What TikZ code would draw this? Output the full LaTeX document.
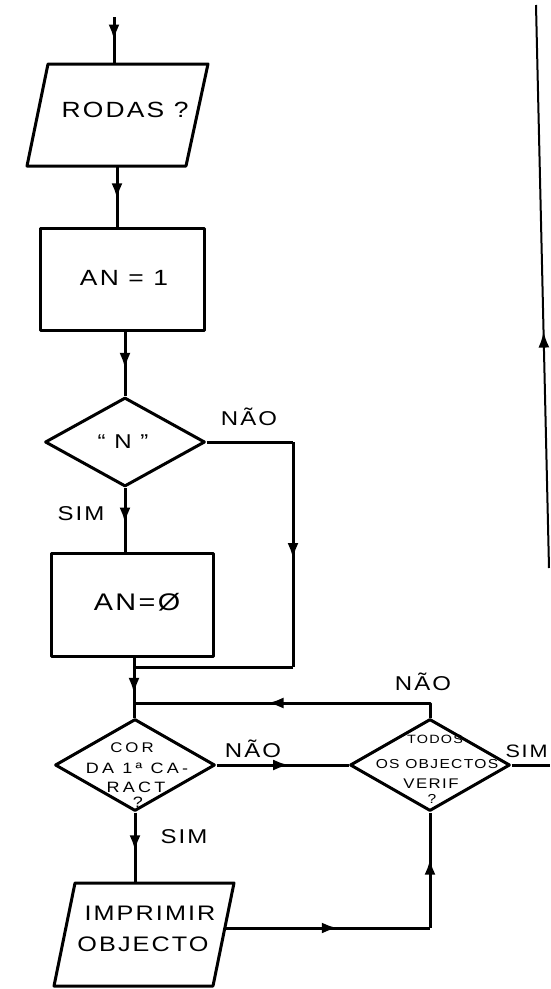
\documentclass[tikz,border=0pt]{standalone}
\usepackage{fontspec}
\setmainfont{Liberation Sans}
\newfontfamily\hand[FakeStretch=1.2,LetterSpace=10]{Liberation Sans}
\newfontfamily\handw[FakeStretch=1.2,LetterSpace=22]{Liberation Sans}
\usetikzlibrary{shapes.geometric,arrows.meta,decorations.markings}
\begin{document}
\begin{tikzpicture}[x=1pt,y=-1pt,line width=3pt,line join=round,
  midarrow/.style={postaction={decorate},decoration={markings,mark=at position #1 with {\arrow{Latex[length=16pt,width=11pt]}}}},
  midarrow/.default=0.5,
  box/.style={draw,rectangle,inner sep=0},
  dec/.style={draw,diamond,inner sep=0},
  txt/.style={inner sep=0,anchor=base},
  big/.style={txt,font=\hand\fontsize{22}{22}\selectfont},
  lbl/.style={txt,font=\hand\fontsize{20}{20}\selectfont},
  sml/.style={txt,font=\handw\fontsize{15}{15}\selectfont},
  tiny/.style={txt,font=\hand\fontsize{13}{13}\selectfont}]
\fill[white] (0,0) rectangle (550,989);
\useasboundingbox (0,0) rectangle (550,989);

% ---- RODAS ? (input)
\coordinate (start) at (114,17);
\coordinate (rTL) at (48,64);
\coordinate (rTR) at (208,64);
\coordinate (rBR) at (186,166);
\coordinate (rBL) at (27,166);
\draw (rTL) -- (rTR) -- (rBR) -- (rBL) -- cycle;
\coordinate (rodasN) at (114,64);
\coordinate (rodasS) at (117,166);
\node[big] (rodas) at (125,117) {RODAS ?};
\draw[midarrow=0.5] (start) -- (rodasN);

% ---- AN = 1
\node[box,minimum width=164,minimum height=102] (an1) at (122,279) {};
\node[big] (an1t) at (124,285) {AN = 1};
\draw[midarrow=0.55] (rodasS) -- (rodasS |- an1.north);

% ---- decision "N"
\node[dec,minimum width=160,minimum height=89] (dN) at (125,442) {};
\node[txt,font=\hand\fontsize{20}{20}\selectfont] (dNt) at (123,448) {“ N ”};
\draw[midarrow=0.58] (dN.north |- an1.south) -- (dN.north);

% ---- AN = Ø
\node[box,minimum width=162,minimum height=103] (an0) at (132,604.5) {};
\node[txt,font=\hand\fontsize{24}{24}\selectfont] (an0t) at (137,610) {AN=Ø};
\draw[midarrow=0.56] (dN.south) -- (dN.south |- an0.north);

% ---- NÃO branch of "N"
\coordinate (rb1) at (293,442);
\coordinate (rb2) at (293,667);
\coordinate (m1) at (134,667);
\draw (dN.east) -- (rb1);
\draw[midarrow=0.52] (rb1) -- (rb2);
\draw (rb2) -- (m1);

% ---- decision COR DA 1a CARACT
\node[dec,minimum width=160,minimum height=92] (cor) at (135,765) {};
\node[sml,font=\handw\fontsize{14}{14}\selectfont] (cor1) at (132,752) {COR};
\node[sml] (cor2) at (137,773) {DA 1ª CA-};
\node[sml] (cor3) at (136,792) {RACT};
\node[sml] (cor4) at (138,807) {?};
\coordinate (m2) at (134,703);
\draw[midarrow=0.8] (m2 |- an0.south) -- (m2);
\draw (m2) -- (m2 |- cor.north);

% ---- decision TODOS OS OBJECTOS VERIF ?
\node[dec,minimum width=160,minimum height=92] (tod) at (430,765) {};
\node[txt,font=\hand\fontsize{12}{12}\selectfont] (tod1) at (435,743) {TODOS};
\node[tiny] (tod2) at (437,768) {OS OBJECTOS};
\node[txt,font=\hand\fontsize{14}{14}\selectfont] (tod3) at (431,788) {VERIF};
\node[tiny] (tod4) at (432,803) {?};
\draw[midarrow=0.55] (cor.east) -- (tod.west);

% loop NÃO
\coordinate (lp) at (430,703);
\draw[midarrow=0.57] (tod.north) -- (lp) -- (m2);

% SIM exit
\coordinate (simEnd) at (550,765);
\draw (tod.east) -- (simEnd);

% right long return line
\coordinate (vb) at (549,568);
\coordinate (vt) at (536,5);
\draw[line width=2pt,midarrow=0.42] (vb) -- (vt);

% ---- IMPRIMIR OBJECTO (output)
\coordinate (iTL) at (75,883);
\coordinate (iTR) at (234,883);
\coordinate (iBR) at (213,986);
\coordinate (iBL) at (54,986);
\draw (iTL) -- (iTR) -- (iBR) -- (iBL) -- cycle;
\node[txt,font=\hand\fontsize{21}{21}\selectfont] (imp1) at (150,920) {IMPRIMIR};
\node[txt,font=\hand\fontsize{21}{21}\selectfont] (imp2) at (143,951) {OBJECTO};
\coordinate (impN) at (135,883);
\coordinate (impE) at (225,928);
\coordinate (bc) at (430,928);
\draw[midarrow=0.55] (cor.south) -- (impN);
\draw[midarrow=0.55] (impE) -- (bc);
\draw[midarrow=0.6] (bc) -- (tod.south);

% ---- labels
\node[lbl] (l1) at (249,425) {NÃO};
\node[lbl] (l2) at (81,520) {SIM};
\node[lbl] (l3) at (423,690) {NÃO};
\node[lbl] (l4) at (253,757) {NÃO};
\node[lbl,anchor=base east,font=\hand\fontsize{18}{18}\selectfont] (l5) at (549,757) {SIM};
\node[lbl] (l6) at (184,843) {SIM};
\end{tikzpicture}
\end{document}
